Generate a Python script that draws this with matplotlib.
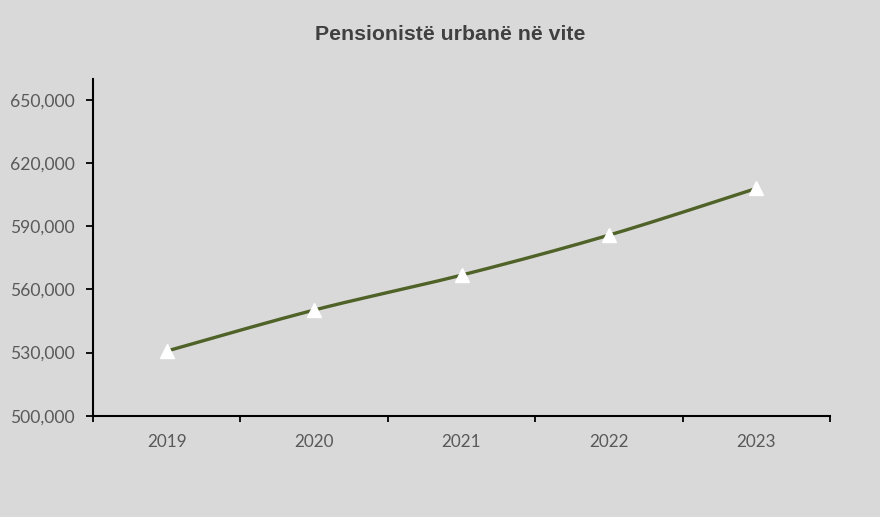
import matplotlib
matplotlib.use("Agg")
import matplotlib.pyplot as plt
import numpy as np
from matplotlib.ticker import FuncFormatter

years = ["2019", "2020", "2021", "2022", "2023"]
pensioners = [530700, 550200, 566800, 585800, 608000]
y_ticks = [500000, 530000, 560000, 590000, 620000, 650000]
title = "Pensionistë urbanë në vite"

bg = "#d9d9d9"
line_color = "#4f6228"
text_color = "#595959"

fig = plt.figure(figsize=(8.8, 5.17), dpi=100, facecolor=bg)
ax = fig.add_axes([93/880, 1-415.7/517, (830-93)/880, (415.7-79)/517])
ax.set_facecolor(bg)

x = np.arange(len(years), dtype=float)
y = np.array(pensioners, dtype=float)

# Excel-like smoothed line (Catmull-Rom Bezier)
px, py = [], []
t = np.linspace(0, 1, 40)
for i in range(len(x) - 1):
    p0 = np.array([x[max(i-1, 0)], y[max(i-1, 0)]])
    p1 = np.array([x[i], y[i]])
    p2 = np.array([x[i+1], y[i+1]])
    p3 = np.array([x[min(i+2, len(x)-1)], y[min(i+2, len(x)-1)]])
    c1 = p1 + (p2 - p0) / 6
    c2 = p2 - (p3 - p1) / 6
    for tt in t:
        b = ((1-tt)**3)*p1 + 3*((1-tt)**2)*tt*c1 + 3*(1-tt)*tt**2*c2 + tt**3*p2
        px.append(b[0]); py.append(b[1])
ax.plot(px, py, color=line_color, lw=2.4, solid_capstyle="round", zorder=3)
ax.plot(x, y, linestyle="none", marker="^", markersize=9.5, color="white",
        markeredgecolor="white", zorder=4)

ax.set_xlim(-0.5, len(years) - 0.5)
ax.set_ylim(500000, 660000)
ax.set_yticks(y_ticks)
ax.yaxis.set_major_formatter(FuncFormatter(lambda v, p: f"{int(v):,}"))
ax.set_xticks(x)
ax.set_xticklabels(years)
ax.set_xticks(np.arange(-0.5, len(years), 1.0), minor=True)
ax.tick_params(axis="x", which="major", length=0, pad=13, labelsize=12.3,
               labelcolor=text_color)
ax.tick_params(axis="x", which="minor", length=4.5, width=1.3, direction="out",
               color="black")
ax.tick_params(axis="y", length=5, width=1.3, direction="out", color="black",
               labelsize=12.6, labelcolor=text_color, pad=8)
for lab in ax.get_xticklabels() + ax.get_yticklabels():
    lab.set_family(["Lato", "DejaVu Sans"])

for s in ["top", "right"]:
    ax.spines[s].set_visible(False)
for s in ["left", "bottom"]:
    ax.spines[s].set_linewidth(1.5)
    ax.spines[s].set_color("black")

fig.text(450/880, 1-35/517, title, ha="center", va="center", fontsize=15.3,
         fontweight="bold", color="#404040", family=["Liberation Sans", "DejaVu Sans"])

fig.savefig("out.png", dpi=100, facecolor=bg)
